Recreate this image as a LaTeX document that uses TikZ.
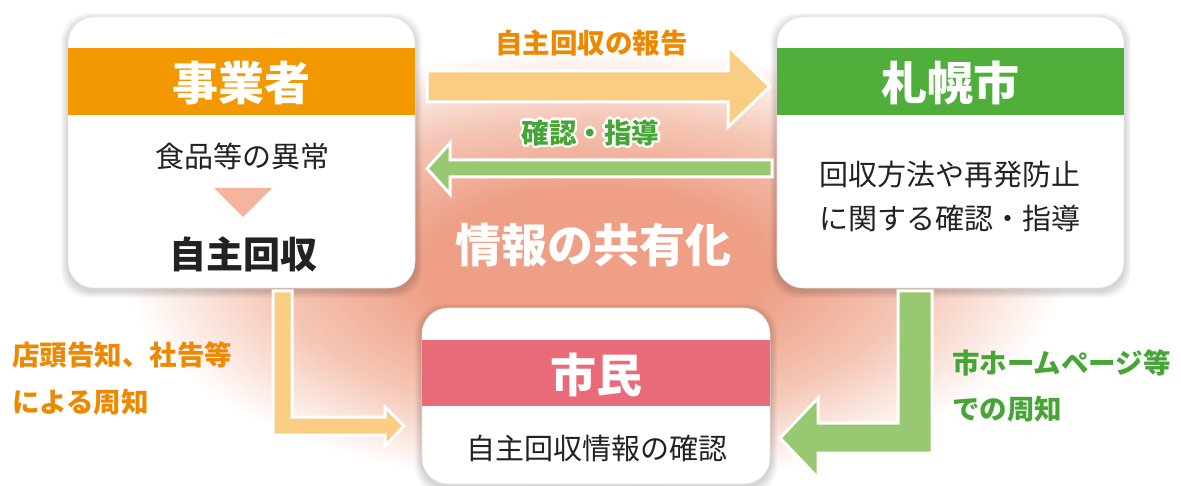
\documentclass[tikz,border=0pt]{standalone}
\usepackage{fontspec}
\setmainfont{Noto Sans CJK JP}
\usetikzlibrary{calc}
\definecolor{orgband}{HTML}{F39800}
\definecolor{grnband}{HTML}{4FAF3A}
\definecolor{pnkband}{HTML}{E96A78}
\definecolor{orgarrow}{HTML}{FACD84}
\definecolor{grnarrow}{HTML}{98C872}
\definecolor{orgtext}{HTML}{EE8800}
\definecolor{grntext}{HTML}{45A535}
\definecolor{tri}{HTML}{F5B59C}
\definecolor{glowc}{HTML}{EE9F86}
\definecolor{glowm}{HTML}{F5C6B5}
\definecolor{darktext}{HTML}{222222}
\pgfdeclareradialshading{infoglow}{\pgfpoint{0bp}{0bp}}{color(0bp)=(glowc); color(9bp)=(glowc); color(17bp)=(glowm); color(25bp)=(white); color(50bp)=(white)}
\newcommand\myshadow[4]{%
  \foreach \i in {1,...,7}{%
    \fill[black,opacity=0.022,rounded corners=27pt] ($(#1,#2)+(-\i,-\i+3)$) rectangle ($(#3,#4)+(\i,\i+3)$);
  }}
\begin{document}
\begin{tikzpicture}[x=1pt,y=-1pt,
  card/.style={draw=black!10,line width=0.6pt,fill=white,rounded corners=26pt},
  hdr/.style={text=white,inner sep=0pt,font=\bfseries\fontsize{46}{50}\selectfont},
  body/.style={text=darktext,inner sep=0pt,font=\fontsize{29}{34}\selectfont},
  olabel/.style={text=orgtext,inner sep=0pt,font=\bfseries\fontsize{27.5}{32}\selectfont},
  glabel/.style={text=grntext,inner sep=0pt,font=\bfseries\fontsize{27.5}{32}\selectfont},
  blockarrow/.style={draw=white,line width=3pt,line join=miter}]
\useasboundingbox (0,0) rectangle (1181,486);
\fill[white] (0,0) rectangle (1181,486);
% background glow
\shade[shading=infoglow] (595,268) ellipse [x radius=470, y radius=220];
% shared info text
\node[text=white,inner sep=0pt,font=\bfseries\fontsize{46}{50}\selectfont] (share) at (593,245) {情報の共有化};
% shadows
\myshadow{68}{17}{415}{288}
\myshadow{777}{17}{1124}{288}
\myshadow{422}{308}{770}{484}
% business box
\path[card] (68,17) rectangle (415,288);
\coordinate (biz) at (241.5,152.5);
\fill[orgband] (68,48) rectangle (415,115);
\node[hdr] (bizhdr) at (241.5,83) {事業者};
\node[body] (bizl1) at (242,156) {食品等の異常};
\fill[tri] (214,188) -- (272,188) -- (243,217) -- cycle;
\node[text=darktext,inner sep=0pt,font=\bfseries\fontsize{37}{40}\selectfont] (bizl2) at (243,254) {自主回収};
% city box
\path[card] (777,17) rectangle (1124,288);
\coordinate (city) at (950.5,152.5);
\fill[grnband] (777,48) rectangle (1124,115);
\node[hdr] (cityhdr) at (950.5,83) {札幌市};
\node[body] (cityl1) at (950,175) {回収方法や再発防止};
\node[body] (cityl2) at (950,218) {に関する確認・指導};
% citizen box
\path[card] (422,308) rectangle (770,484);
\coordinate (citizen) at (596,396);
\fill[pnkband] (422,340) rectangle (770,406);
\node[hdr] (citizenhdr) at (596,375) {市民};
\node[body] (citizenl1) at (596.5,448) {自主回収情報の確認};
% arrows
\filldraw[blockarrow,fill=orgarrow] (427,71) -- (728,71) -- (728,46) -- (770,86.5) -- (728,127) -- (728,102) -- (427,102) -- cycle;
\filldraw[blockarrow,fill=grnarrow] (772,160) -- (450,160) -- (450,143) -- (427,168.5) -- (450,194) -- (450,177) -- (772,177) -- cycle;
\filldraw[blockarrow,fill=orgarrow] (273,291) -- (292,291) -- (292,417) -- (385,417) -- (385,407) -- (404,426) -- (385,446) -- (385,435) -- (273,435) -- cycle;
\filldraw[blockarrow,fill=grnarrow] (898,291) -- (932,291) -- (932,453) -- (818,453) -- (818,478) -- (780,438) -- (818,398) -- (818,423) -- (898,423) -- cycle;
% arrow labels
\node[olabel] (rep) at (591.5,43) {自主回収の報告};
\foreach \a in {0,30,...,330}{\node[glabel,text=white] at ($(590.5,133)+(\a:2.5)$) {確認・指導};}
\node[glabel] (guide) at (590.5,133) {確認・指導};
\node[olabel,anchor=west] (shop1) at (12,355) {店頭告知、社告等};
\node[olabel,anchor=west] (shop2) at (12,402) {による周知};
\node[glabel,anchor=west] (web1) at (952,363) {市ホームページ等};
\node[glabel,anchor=west] (web2) at (952,409) {での周知};
\end{tikzpicture}
\end{document}
